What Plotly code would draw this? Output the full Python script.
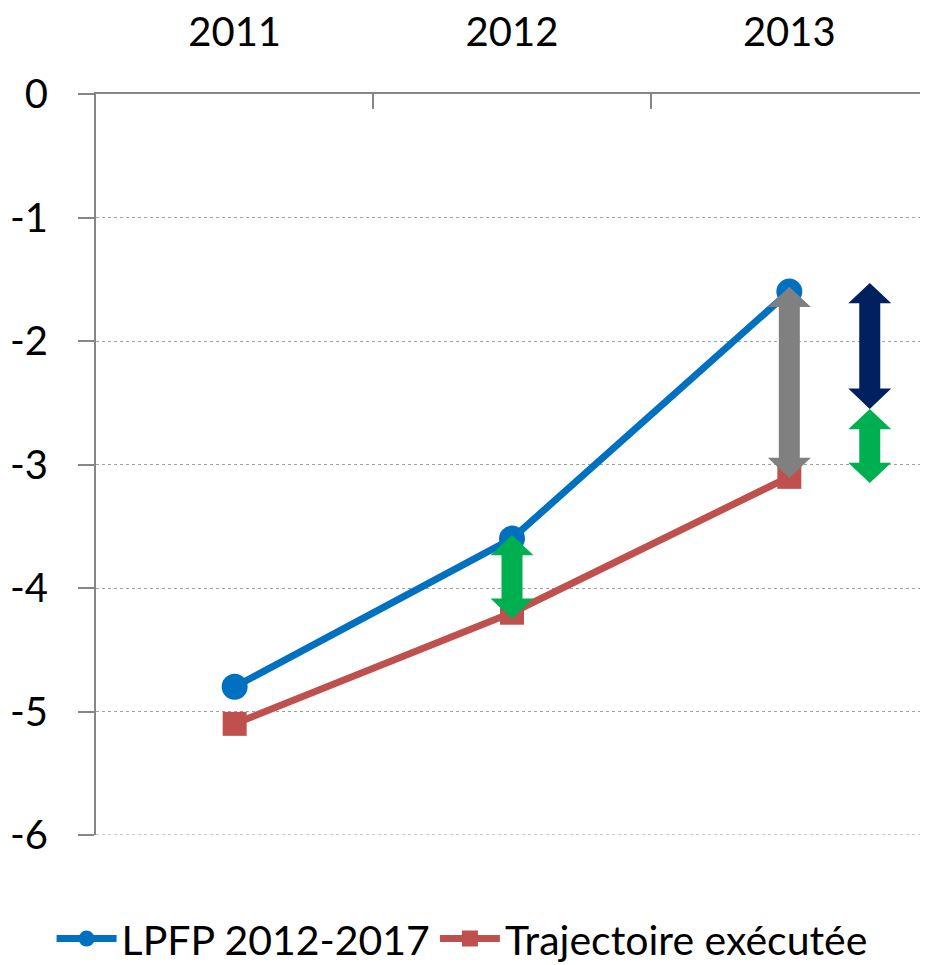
import plotly.graph_objects as go

years = ["2011", "2012", "2013"]
lpfp = [-4.8, -3.6, -1.6]
trajectoire = [-5.1, -4.2, -3.1]

y_tickvals = [0, -1, -2, -3, -4, -5, -6]
y_ticktext = ["0", "-1", "-2", "-3", "-4", "-5", "-6"]

# double arrows: x position (category index), top value, bottom value, colour
arrow_x = [1, 2, 2.29, 2.29]
arrow_top = [-3.57, -1.56, -1.53, -2.55]
arrow_bottom = [-4.25, -3.11, -2.55, -3.15]
arrow_color = ["#00B050", "#808080", "#002060", "#00B050"]

FONT = "Lato"

fig = go.Figure()
fig.add_trace(go.Scatter(
    x=years, y=lpfp, name="LPFP 2012-2017", mode="lines+markers",
    line=dict(color="#0070C0", width=7),
    marker=dict(symbol="circle", size=26, color="#0070C0"),
))
fig.add_trace(go.Scatter(
    x=years, y=trajectoire, name="Trajectoire exécutée", mode="lines+markers",
    line=dict(color="#C0504D", width=7),
    marker=dict(symbol="square", size=24, color="#C0504D"),
))

hw_shaft = 10.5   # px
hw_head = 21.5    # px
head_len = 0.165  # data units

for xa, yt, yb, col in zip(arrow_x, arrow_top, arrow_bottom, arrow_color):
    path = (f"M 0,{yt} L {hw_head},{yt-head_len} L {hw_shaft},{yt-head_len} "
            f"L {hw_shaft},{yb+head_len} L {hw_head},{yb+head_len} L 0,{yb} "
            f"L {-hw_head},{yb+head_len} L {-hw_shaft},{yb+head_len} "
            f"L {-hw_shaft},{yt-head_len} L {-hw_head},{yt-head_len} Z")
    fig.add_shape(type="path", path=path, xref="x", yref="y",
                  xsizemode="pixel", xanchor=xa,
                  fillcolor=col, line=dict(width=0), layer="above")

# bottom gridline (at the range edge)
fig.add_shape(type="line", xref="paper", yref="y", x0=0, x1=1,
              y0=y_tickvals[-1], y1=y_tickvals[-1],
              line=dict(color="#A0A0A0", width=1, dash="dot"), layer="below")

fig.update_layout(
    width=928, height=957,
    margin=dict(l=88, r=8, t=86, b=130, autoexpand=False),
    paper_bgcolor="white", plot_bgcolor="white",
    font=dict(family=FONT, size=40, color="black"),
    showlegend=True,
    legend=dict(orientation="h", x=0.44, xanchor="center", y=-0.095, yanchor="top",
                font=dict(family=FONT, size=41), itemwidth=60,
                tracegroupgap=0),
)
fig.update_xaxes(
    type="category", side="top", range=[-0.5, 2.5], automargin=False,
    showline=True, linecolor="#868686", linewidth=2,
    ticks="inside", ticklen=15, tickcolor="#868686", tickwidth=2,
    tickson="boundaries", showgrid=False, zeroline=False,
    ticklabelstandoff=30,
    tickfont=dict(family=FONT, size=40),
)
fig.update_yaxes(
    range=[-6, 0], tickvals=y_tickvals, ticktext=y_ticktext, automargin=False,
    showline=True, linecolor="#868686", linewidth=2,
    ticks="outside", ticklen=16, tickcolor="#868686", tickwidth=2,
    showgrid=True, gridcolor="#A0A0A0", gridwidth=1, griddash="dot",
    zeroline=False, ticklabelstandoff=22,
    tickfont=dict(family=FONT, size=40),
)

fig.write_html("out.html")
